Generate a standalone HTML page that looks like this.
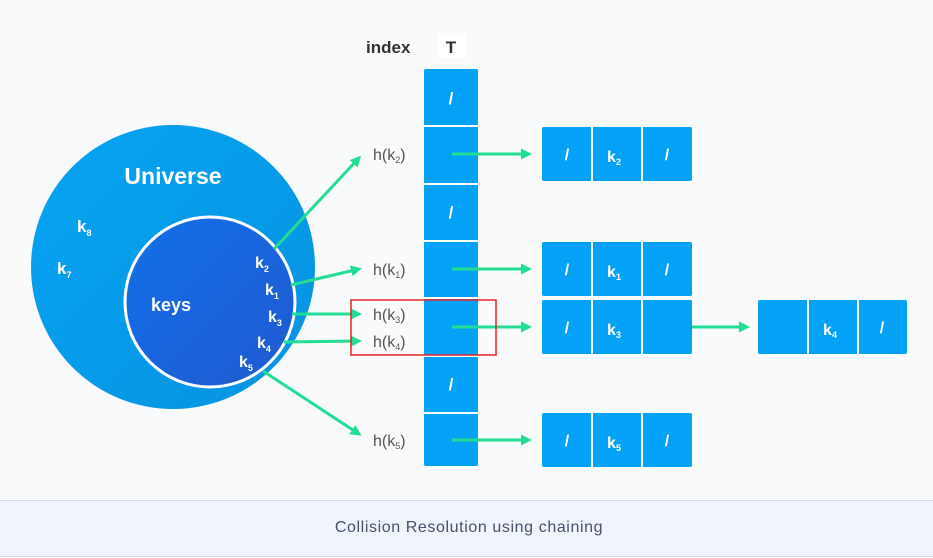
<!DOCTYPE html>
<html><head><meta charset="utf-8"><style>
html,body{margin:0;padding:0;background:#f8fafc;}
svg{display:block;font-family:"Liberation Sans",sans-serif;}
</style></head><body>
<svg width="933" height="558" viewBox="0 0 933 558">
<defs>
<linearGradient id="ug" x1="0" y1="0" x2="1" y2="1"><stop offset="0" stop-color="#05a4f2"/><stop offset="1" stop-color="#0892e0"/></linearGradient>
<linearGradient id="kg" x1="0" y1="0" x2="1" y2="1"><stop offset="0" stop-color="#1170ea"/><stop offset="1" stop-color="#2159cf"/></linearGradient>
<marker id="ah" markerWidth="11" markerHeight="11" refX="8" refY="5.5" orient="auto" markerUnits="userSpaceOnUse"><path d="M0,0 L11,5.5 L0,11 z" fill="#22dd94"/></marker>
</defs>
<rect x="0" y="0" width="933" height="500" fill="#f8fafc"/>
<g>
<circle cx="173" cy="267" r="142" fill="url(#ug)"/>
<text x="173" y="184" text-anchor="middle" font-size="23" font-weight="bold" fill="#fff">Universe</text>
<text x="77" y="232" font-size="17" font-weight="bold" fill="#fff">k<tspan font-size="9" dy="4">8</tspan></text>
<text x="57" y="274" font-size="17" font-weight="bold" fill="#fff">k<tspan font-size="9" dy="4">7</tspan></text>
</g>
<g>
<circle cx="210" cy="302" r="85" fill="url(#kg)" stroke="#fff" stroke-width="3"/>
<text x="151" y="311" font-size="18" font-weight="bold" fill="#fff">keys</text>
<text x="255" y="268" font-size="16" font-weight="bold" fill="#fff">k<tspan font-size="9" dy="4">2</tspan></text>
<text x="265" y="295" font-size="16" font-weight="bold" fill="#fff">k<tspan font-size="9" dy="4">1</tspan></text>
<text x="268" y="322" font-size="16" font-weight="bold" fill="#fff">k<tspan font-size="9" dy="4">3</tspan></text>
<text x="257" y="348" font-size="16" font-weight="bold" fill="#fff">k<tspan font-size="9" dy="4">4</tspan></text>
<text x="239" y="367" font-size="16" font-weight="bold" fill="#fff">k<tspan font-size="9" dy="4">5</tspan></text>
</g>
<g stroke="#22dd94" stroke-width="3" fill="none" marker-end="url(#ah)">
<line x1="274" y1="249" x2="359" y2="158"/>
<line x1="291" y1="285" x2="359" y2="269"/>
<line x1="292" y1="314" x2="359" y2="314"/>
<line x1="284" y1="342" x2="359" y2="341"/>
<line x1="263" y1="371" x2="359" y2="434"/>
</g>
<g font-size="16" fill="#555">
<text x="373" y="160">h(k<tspan font-size="9" dy="3">2</tspan><tspan dy="-3">)</tspan></text>
<text x="373" y="275">h(k<tspan font-size="9" dy="3">1</tspan><tspan dy="-3">)</tspan></text>
<text x="373" y="320">h(k<tspan font-size="9" dy="3">3</tspan><tspan dy="-3">)</tspan></text>
<text x="373" y="347">h(k<tspan font-size="9" dy="3">4</tspan><tspan dy="-3">)</tspan></text>
<text x="373" y="446">h(k<tspan font-size="9" dy="3">5</tspan><tspan dy="-3">)</tspan></text>
</g>
<text x="366" y="53" font-size="17" font-weight="bold" fill="#333">index</text>
<rect x="437" y="33" width="29" height="25" fill="#fff"/>
<text x="451" y="53" text-anchor="middle" font-size="17" font-weight="bold" fill="#333">T</text>
<g>
<rect x="424" y="69" width="54" height="397" rx="2" fill="#03a2f6"/>
<g stroke="#fff" stroke-width="2">
<line x1="424" y1="126" x2="478" y2="126"/><line x1="424" y1="184" x2="478" y2="184"/><line x1="424" y1="241" x2="478" y2="241"/><line x1="424" y1="298" x2="478" y2="298"/><line x1="424" y1="356" x2="478" y2="356"/><line x1="424" y1="413" x2="478" y2="413"/>
</g>
<g font-size="17" font-weight="bold" fill="#fff" text-anchor="middle">
<text x="451" y="104">/</text><text x="451" y="218">/</text><text x="451" y="390">/</text>
</g>
</g>
<g stroke="#22dd94" stroke-width="3" marker-end="url(#ah)">
<line x1="452" y1="154" x2="529" y2="154"/>
<line x1="452" y1="269" x2="529" y2="269"/>
<line x1="452" y1="327" x2="529" y2="327"/>
<line x1="452" y1="440" x2="529" y2="440"/>
<line x1="667" y1="327" x2="747" y2="327"/>
</g>
<g font-size="16" font-weight="bold" fill="#fff" text-anchor="middle">
<g><rect x="542" y="127" width="150" height="54" rx="2" fill="#03a2f6"/><line x1="592" y1="127" x2="592" y2="181" stroke="#fff" stroke-width="2"/><line x1="642" y1="127" x2="642" y2="181" stroke="#fff" stroke-width="2"/><text x="567" y="160">/</text><text x="614" y="162">k<tspan font-size="9" dy="3">2</tspan></text><text x="667" y="160">/</text></g>
<g><rect x="542" y="242" width="150" height="54" rx="2" fill="#03a2f6"/><line x1="592" y1="242" x2="592" y2="296" stroke="#fff" stroke-width="2"/><line x1="642" y1="242" x2="642" y2="296" stroke="#fff" stroke-width="2"/><text x="567" y="275">/</text><text x="614" y="277">k<tspan font-size="9" dy="3">1</tspan></text><text x="667" y="275">/</text></g>
<g><rect x="542" y="300" width="150" height="54" rx="2" fill="#03a2f6"/><line x1="592" y1="300" x2="592" y2="354" stroke="#fff" stroke-width="2"/><line x1="642" y1="300" x2="642" y2="354" stroke="#fff" stroke-width="2"/><text x="567" y="333">/</text><text x="614" y="335">k<tspan font-size="9" dy="3">3</tspan></text></g>
<g><rect x="758" y="300" width="149" height="54" rx="2" fill="#03a2f6"/><line x1="808" y1="300" x2="808" y2="354" stroke="#fff" stroke-width="2"/><line x1="858" y1="300" x2="858" y2="354" stroke="#fff" stroke-width="2"/><text x="830" y="335">k<tspan font-size="9" dy="3">4</tspan></text><text x="882" y="333">/</text></g>
<g><rect x="542" y="413" width="150" height="54" rx="2" fill="#03a2f6"/><line x1="592" y1="413" x2="592" y2="467" stroke="#fff" stroke-width="2"/><line x1="642" y1="413" x2="642" y2="467" stroke="#fff" stroke-width="2"/><text x="567" y="446">/</text><text x="614" y="448">k<tspan font-size="9" dy="3">5</tspan></text><text x="667" y="446">/</text></g>
</g>
<rect x="351" y="300" width="145" height="55" fill="none" stroke="#e8222a" stroke-width="1.5"/>
<g>
<rect x="0" y="500" width="933" height="56" fill="#eff4fd"/>
<line x1="0" y1="500.5" x2="933" y2="500.5" stroke="#d3dcea"/>
<line x1="0" y1="556.5" x2="933" y2="556.5" stroke="#d3dcea"/>
<text x="469" y="532" text-anchor="middle" font-size="16" letter-spacing="0.6" fill="#4a5068">Collision Resolution using chaining</text>
</g>
</svg>
</body></html>
